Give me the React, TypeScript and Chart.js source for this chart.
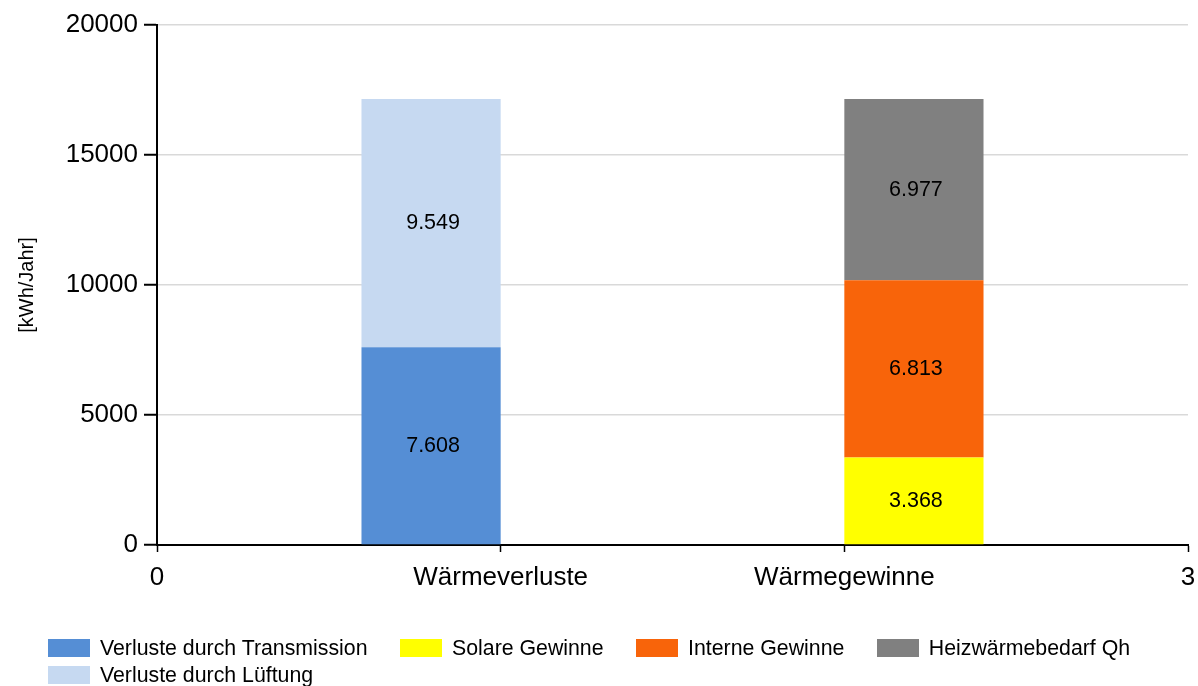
import React, { useEffect, useRef } from "react";
import { Chart, registerables } from "chart.js";

Chart.register(...registerables);

const categories = ["0", "Wärmeverluste", "Wärmegewinne", "3"];
const transmission = [null, 7608, null, null];
const solar = [null, null, 3368, null];
const internal = [null, null, 6813, null];
const heating = [null, null, 6977, null];
const ventilation = [null, 9549, null, null];

const seriesNames = [
  "Verluste durch Transmission",
  "Solare Gewinne",
  "Interne Gewinne",
  "Heizwärmebedarf Qh",
  "Verluste durch Lüftung",
];
const seriesColors = ["#558ed5", "#ffff00", "#f8640a", "#808080", "#c6d9f1"];
const seriesStacks = ["verluste", "gewinne", "gewinne", "gewinne", "verluste"];
const seriesValues = [transmission, solar, internal, heating, ventilation];

const yTicksMin = 0;
const yTicksMax = 20000;
const yTicksStep = 5000;
const yTitle = "[kWh/Jahr]";

const FONT = "'Liberation Sans', Arial, Helvetica, sans-serif";

const fmt = (v: number) => String(v).replace(/\B(?=(\d{3})+(?!\d))/g, ".");

const valueLabels = {
  id: "valueLabels",
  afterDatasetsDraw(chart: any) {
    const ctx = chart.ctx;
    ctx.save();
    ctx.font = `21.5px ${FONT}`;
    ctx.fillStyle = "#000";
    ctx.textAlign = "center";
    ctx.textBaseline = "middle";
    chart.data.datasets.forEach((ds: any, i: number) => {
      const meta = chart.getDatasetMeta(i);
      meta.data.forEach((el: any, j: number) => {
        const v = ds.data[j];
        if (v === null || v === undefined) return;
        const p = el.getProps(["x", "y", "base"], true);
        ctx.fillText(fmt(v), p.x + 2, (p.y + p.base) / 2);
      });
    });
    ctx.restore();
  },
};

export default function App() {
  const ref = useRef<HTMLCanvasElement | null>(null);

  useEffect(() => {
    if (!ref.current) return;
    const chart = new Chart(ref.current, {
      type: "bar",
      data: {
        labels: categories,
        datasets: seriesNames.map((name, i) => ({
          label: name,
          data: seriesValues[i],
          backgroundColor: seriesColors[i],
          stack: seriesStacks[i],
          borderWidth: 0,
          categoryPercentage: 0.81,
          barPercentage: 1,
        })),
      },
      options: {
        responsive: false,
        animation: false,
        devicePixelRatio: 1,
        layout: { padding: { left: 0, top: 25, right: 10, bottom: 96 } },
        plugins: {
          legend: { display: false },
          tooltip: { enabled: false },
        },
        scales: {
          x: {
            type: "category",
            offset: false,
            grid: {
              offset: false,
              drawOnChartArea: false,
              drawTicks: true,
              tickLength: 7,
              tickColor: "#000",
              tickWidth: 1.5,
            },
            border: { display: true, color: "#000", width: 2 },
            ticks: {
              color: "#000",
              font: { family: FONT, size: 26 },
              padding: 10,
              maxRotation: 0,
              autoSkip: false,
            },
            afterFit: (s: any) => {
              s.height = 45;
              s.paddingLeft = 0;
              s.paddingRight = 0;
            },
          },
          y: {
            stacked: true,
            min: yTicksMin,
            max: yTicksMax,
            grid: {
              color: "#d9d9d9",
              lineWidth: 1.5,
              tickLength: 13,
              tickColor: "#000",
              tickWidth: 2,
            },
            border: { display: true, color: "#000", width: 2 },
            ticks: {
              stepSize: yTicksStep,
              color: "#000",
              font: { family: FONT, size: 26 },
              padding: 6,
              callback: (v: any) => String(v),
            },
            title: {
              display: true,
              text: yTitle,
              color: "#000",
              font: { family: FONT, size: 20 },
              padding: { top: 15, bottom: 0 },
            },
            afterFit: (s: any) => {
              s.width = 157;
            },
          },
        },
      },
      plugins: [valueLabels],
    });
    return () => chart.destroy();
  }, []);

  return (
    <div style={{ position: "absolute", left: 0, top: 0, width: 1198, height: 686, background: "#fff" }}>
      <canvas ref={ref} width={1198} height={686} style={{ display: "block" }} />
      <div
        style={{
          position: "absolute",
          left: 48,
          top: 637.5,
          width: 1140,
          display: "flex",
          flexWrap: "wrap",
          columnGap: 32.5,
          rowGap: 6,
          fontFamily: FONT,
          fontSize: 21.3,
          lineHeight: "21px",
          color: "#000",
        }}
      >
        {seriesNames.map((name, i) => (
          <div key={name} style={{ display: "flex", alignItems: "center", height: 21, whiteSpace: "nowrap" }}>
            <span style={{ display: "inline-block", width: 42, height: 18, background: seriesColors[i], marginRight: 10 }} />
            <span>{name}</span>
          </div>
        ))}
      </div>
    </div>
  );
}
